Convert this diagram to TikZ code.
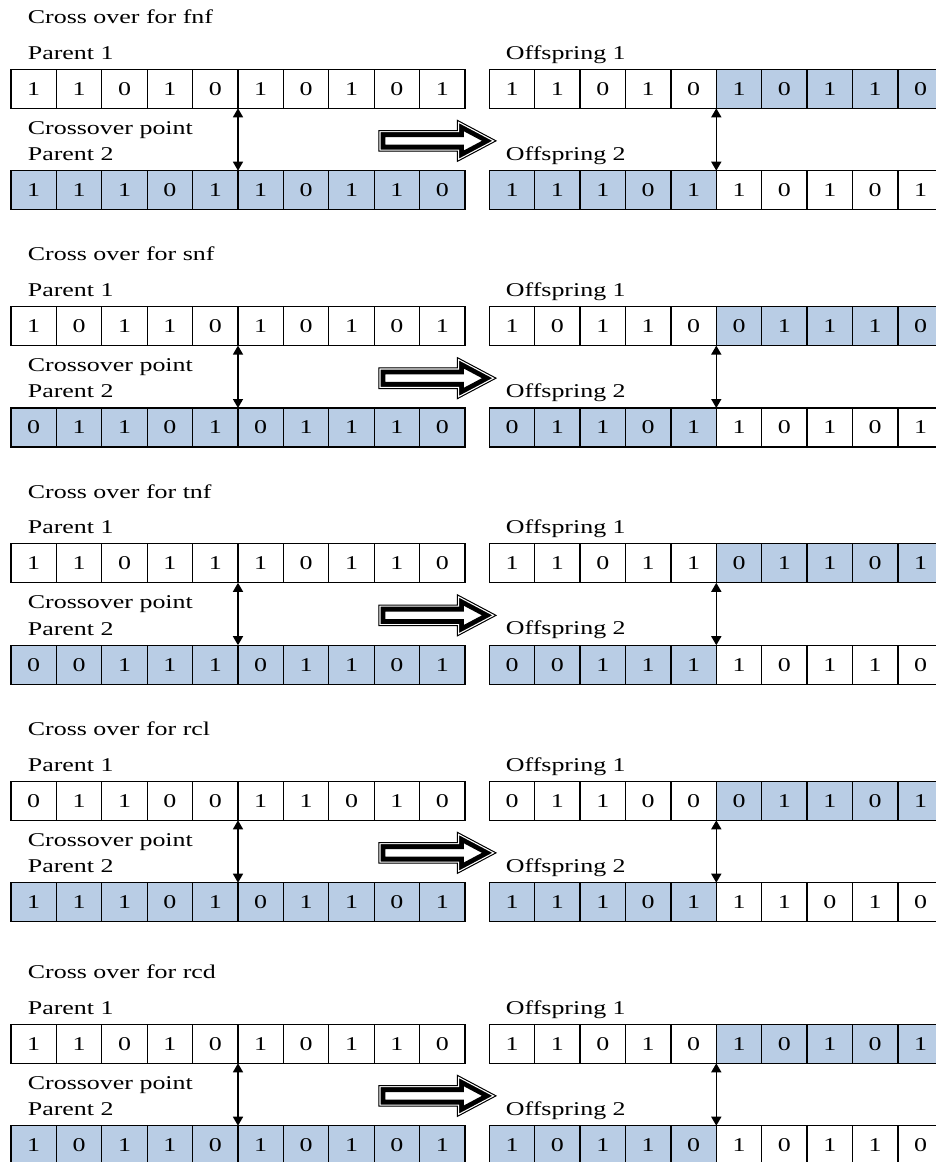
\documentclass[tikz,border=0pt]{standalone}
\usepackage{fontspec}
\usepackage{graphicx}
\setmainfont{Liberation Serif}
\usetikzlibrary{arrows.meta}
\definecolor{cellblue}{HTML}{B9CDE5}
\newcommand{\st}[1]{\scalebox{1.33}[1]{#1}}
\tikzset{
  cell/.style={draw=black, line width=1.3pt, minimum width=45.4pt, minimum height=39pt,
    inner sep=0pt, outer sep=0pt, anchor=north west, font=\fontsize{19.5}{20}\selectfont},
  lbl/.style={anchor=base west, inner sep=0pt, font=\fontsize{19.5}{20}\selectfont},
  xo/.style={line width=1.5pt, {Triangle[width=10pt,length=9pt]}-{Triangle[width=10pt,length=9pt]}},
}
\begin{document}
\begin{tikzpicture}[x=1pt,y=-1pt]
\path[use as bounding box, clip] (0,0) rectangle (936,1162);
\fill[white] (0,0) rectangle (936,1162);
\foreach \b/\o/\t/\pa/\pb/\oa/\ob in {
  1/0/fnf/{1,1,0,1,0,1,0,1,0,1}/{1,1,1,0,1,1,0,1,1,0}/{1,1,0,1,0,1,0,1,1,0}/{1,1,1,0,1,1,0,1,0,1},
  2/237.3/snf/{1,0,1,1,0,1,0,1,0,1}/{0,1,1,0,1,0,1,1,1,0}/{1,0,1,1,0,0,1,1,1,0}/{0,1,1,0,1,1,0,1,0,1},
  3/474.5/tnf/{1,1,0,1,1,1,0,1,1,0}/{0,0,1,1,1,0,1,1,0,1}/{1,1,0,1,1,0,1,1,0,1}/{0,0,1,1,1,1,0,1,1,0},
  4/712/rcl/{0,1,1,0,0,1,1,0,1,0}/{1,1,1,0,1,0,1,1,0,1}/{0,1,1,0,0,0,1,1,0,1}/{1,1,1,0,1,1,1,0,1,0},
  5/955/rcd/{1,1,0,1,0,1,0,1,1,0}/{1,0,1,1,0,1,0,1,0,1}/{1,1,0,1,0,1,0,1,0,1}/{1,0,1,1,0,1,0,1,1,0}}
{
  % labels
  \node[lbl] (b\b-title) at (27.7,23.5+\o) {\st{Cross over for \t}};
  \node[lbl] (b\b-par1) at (27.7,59+\o) {\st{Parent 1}};
  \node[lbl] (b\b-cp) at (27.7,134+\o) {\st{Crossover point}};
  \node[lbl] (b\b-par2) at (27.7,160.5+\o) {\st{Parent 2}};
  \node[lbl] (b\b-off1) at (505.7,59+\o) {\st{Offspring 1}};
  \node[lbl] (b\b-off2) at (505.7,160+\o) {\st{Offspring 2}};
  % parent rows
  \foreach \v [count=\i] in \pa {
    \node[cell, fill=white] (b\b-p1-\i) at ({11+(\i-1)*45.4},69.3+\o) {\st{\v}};
  }
  \foreach \v [count=\i] in \pb {
    \node[cell, fill=cellblue] (b\b-p2-\i) at ({11+(\i-1)*45.4},170.7+\o) {\st{\v}};
  }
  % offspring rows
  \foreach \v [count=\i] in \oa {
    \ifnum\i>5 \def\fc{cellblue}\else\def\fc{white}\fi
    \node[cell, fill=\fc] (b\b-o1-\i) at ({489.3+(\i-1)*45.4},69.3+\o) {\st{\v}};
  }
  \foreach \v [count=\i] in \ob {
    \ifnum\i>5 \def\fc{white}\else\def\fc{cellblue}\fi
    \node[cell, fill=\fc] (b\b-o2-\i) at ({489.3+(\i-1)*45.4},170.7+\o) {\st{\v}};
  }
  % crossover points
  \draw[xo] (b\b-p1-5.south east) -- (b\b-p2-5.north east);
  \draw[xo] (b\b-o1-5.south east) -- (b\b-o2-5.north east);
  % big hollow arrow
  \def\arr{(378.8,130.5+\o) -- (457.3,130.5+\o) -- (457.3,120.3+\o) -- (496,140.85+\o) -- (457.3,161.4+\o) -- (457.3,151.2+\o) -- (378.8,151.2+\o) -- cycle}
  \fill[white] \arr;
  \begin{scope}
    \clip \arr;
    \draw[line width=13.2pt, line join=miter] \arr;
    \draw[white, line width=3.4pt, line join=miter] \arr;
  \end{scope}
  \draw[line width=1pt, line join=miter] \arr;
}
\end{tikzpicture}
\end{document}
